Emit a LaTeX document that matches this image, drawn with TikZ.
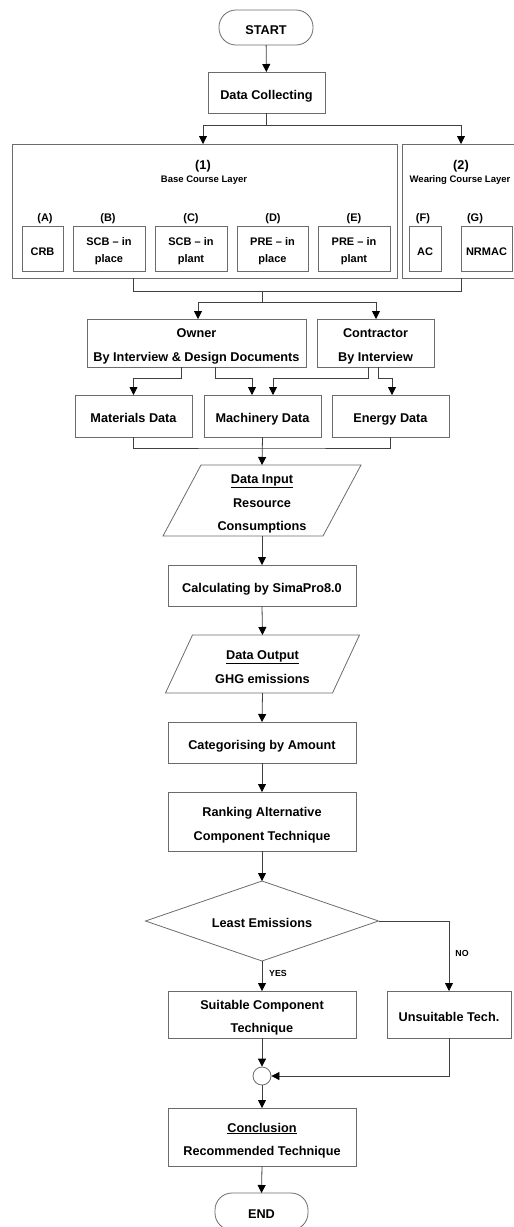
\documentclass[tikz,border=0pt]{standalone}
\usepackage{fontspec}
\setmainfont{Liberation Sans}
\usetikzlibrary{arrows.meta}
\definecolor{boxc}{gray}{0.42}
\definecolor{linec}{gray}{0.25}
\newcommand\topstrut{\rule{0pt}{16pt}}
\newcommand\botstrut{\rule[-2.8pt]{0pt}{2.8pt}}
\begin{document}
\begin{tikzpicture}[x=1pt,y=-1pt,
  base/.style={font=\fontsize{12.7}{23.5}\selectfont\bfseries, align=center, inner sep=0pt, outer sep=0pt,
    execute at begin node=\topstrut, execute at end node=\botstrut},
  tx/.style={font=\fontsize{12.7}{23.5}\selectfont\bfseries, align=center, inner sep=0pt, outer sep=0pt},
  techtx/.style={tx, font=\fontsize{11}{17}\selectfont\bfseries},
  box/.style={base, draw=boxc, line width=0.8pt, rectangle},
  ghost/.style={base, rectangle},
  tech/.style={box, font=\fontsize{11}{17}\selectfont\bfseries},
  techlab/.style={base, font=\fontsize{11}{17}\selectfont\bfseries},
  small/.style={font=\fontsize{9.5}{11}\selectfont\bfseries, inner sep=0pt},
  tiny/.style={font=\fontsize{8.8}{10}\selectfont\bfseries, inner sep=0pt},
  term/.style={box, rounded corners=17pt},
  line/.style={draw=linec, line width=0.8pt},
  arr/.style={line, -{Triangle[length=8pt,width=8pt,color=black]}},
  shapeline/.style={draw=boxc, line width=0.8pt}
]
\useasboundingbox (0,0) rectangle (514,1227);

% terminals and main boxes
\node[term, minimum width=94, minimum height=35] (start) at (266,27.5) {START};
\node[box, minimum width=117, minimum height=41] (dc) at (266.5,92.5) {Data Collecting};

% layer groups
\node[box, minimum width=385, minimum height=134] (box1) at (204.5,211) {};
\node[box, minimum width=114, minimum height=134] (box2) at (459,211) {};
\node[base] (l1) at (203,163) {(1)};
\node[small] (l1t) at (204,180) {Base Course Layer};
\node[base] (l2) at (461,163) {(2)};
\node[small] (l2t) at (460,180) {Wearing Course Layer};

% sub labels
\node[techlab] (la) at (45,215) {(A)};
\node[techlab] (lb) at (108,215) {(B)};
\node[techlab] (lc) at (191,215) {(C)};
\node[techlab] (ld) at (273,215) {(D)};
\node[techlab] (le) at (354,215) {(E)};
\node[techlab] (lf) at (423,215) {(F)};
\node[techlab] (lg) at (475,215) {(G)};

% technique boxes
\node[tech, minimum width=41, minimum height=45] (ta) at (42.5,248.5) {CRB};
\node[tech, minimum width=72, minimum height=45] (tb) at (109,248.5) {};
\node[techtx] (tbt) at ([yshift=-3pt]tb.center) {SCB -- in\\place};
\node[tech, minimum width=72, minimum height=45] (tc) at (191,248.5) {};
\node[techtx] (tct) at ([yshift=-3pt]tc.center) {SCB -- in\\plant};
\node[tech, minimum width=71, minimum height=45] (td) at (272.5,248.5) {};
\node[techtx] (tdt) at ([yshift=-3pt]td.center) {PRE -- in\\place};
\node[tech, minimum width=72, minimum height=45] (te) at (354,248.5) {};
\node[techtx] (tet) at ([yshift=-3pt]te.center) {PRE -- in\\plant};
\node[tech, minimum width=32, minimum height=45] (tf) at (425,248.5) {AC};
\node[tech, minimum width=51, minimum height=45] (tg) at (486.5,248.5) {NRMAC};

% sources
\node[box, minimum width=219, minimum height=48] (owner) at (196.5,343) {};
\node[tx] (ownert) at ([yshift=-3.5pt]owner.center) {Owner\\By Interview \& Design Documents};
\node[box, minimum width=117, minimum height=48] (contr) at (375.5,343) {};
\node[tx] (contrt) at ([yshift=-3.5pt]contr.center) {Contractor\\By Interview};

\node[box, minimum width=117, minimum height=42] (mat) at (133.5,416) {Materials Data};
\node[box, minimum width=117, minimum height=42] (mach) at (262.5,416) {Machinery Data};
\node[box, minimum width=117, minimum height=42] (en) at (390.5,416) {Energy Data};

% data input parallelogram
\node[ghost, minimum width=160, minimum height=71] (din) at (262,500.5) {};
\node[tx] (dint) at ([yshift=-3.5pt]din.center) {\underline{Data Input}\\Resource\\Consumptions};
\draw[shapeline] ([xshift=-19pt]din.south west) -- ([xshift=-19pt]din.south east) -- ([xshift=19pt]din.north east) -- ([xshift=19pt]din.north west) -- cycle;

\node[box, minimum width=188, minimum height=41] (calc) at (262,585.5) {Calculating by SimaPro8.0};

% data output parallelogram
\node[ghost, minimum width=167, minimum height=58] (dout) at (262.5,664) {};
\node[tx] (doutt) at ([yshift=-3pt]dout.center) {\underline{Data Output}\\GHG emissions};
\draw[shapeline] ([xshift=-13.5pt]dout.south west) -- ([xshift=-13.5pt]dout.south east) -- ([xshift=13.5pt]dout.north east) -- ([xshift=13.5pt]dout.north west) -- cycle;

\node[box, minimum width=188, minimum height=41] (cat) at (262,742.5) {Categorising by Amount};
\node[box, minimum width=188, minimum height=59] (rank) at (262,821.5) {};
\node[tx] (rankt) at ([yshift=-3.5pt]rank.center) {Ranking Alternative\\Component Technique};

% decision diamond
\node[ghost, minimum width=233, minimum height=80] (dia) at (262,921) {Least Emissions};
\draw[shapeline] (dia.north) -- (dia.east) -- (dia.south) -- (dia.west) -- cycle;

\node[box, minimum width=188, minimum height=47] (suit) at (262,1014.5) {};
\node[tx] (suitt) at ([yshift=-3pt]suit.center) {Suitable Component\\Technique};
\node[box, minimum width=124, minimum height=47] (unsuit) at (449,1014.5) {Unsuitable Tech.};
\node[draw=boxc, line width=0.8pt, circle, minimum size=18, inner sep=0pt] (circ) at (262,1076) {};
\node[box, minimum width=188, minimum height=58] (concl) at (262,1137) {};
\node[tx] (conclt) at ([yshift=-3.5pt]concl.center) {\underline{Conclusion}\\Recommended Technique};
\node[term, minimum width=93, minimum height=37] (fin) at (261.5,1211.5) {END};

\node[tiny] (yes) at (278,973) {YES};
\node[tiny] (no) at (462,953) {NO};

% junction coordinates
\coordinate (b1) at (203,125);
\coordinate (b2) at (461,125);
\coordinate (m1) at (133,291);
\coordinate (m2) at (461,291);
\coordinate (m0) at (262,291);
\coordinate (s1) at (198,302);
\coordinate (s2) at (376,302);
\coordinate (o1) at (181,378);
\coordinate (o2) at (215,378);
\coordinate (c1) at (368,378);
\coordinate (c2) at (378,378);
\coordinate (mx1) at (252,0);
\coordinate (mx2) at (273,0);
\coordinate (ex) at (392,0);
\coordinate (j2) at (262,448);
\coordinate (nc) at (449,921);

% connectors
\draw[arr] (start) -- (dc);
\draw[arr] (dc.south) |- (b1) -- (b1 |- box1.north);
\draw[arr] (dc.south) |- (b2) -- (b2 |- box2.north);
\draw[line] (box1.south -| m1) -- (m1) -- (m2) -- (box2.south -| m2);
\draw[arr] (m0) |- (s1) -- (s1 |- owner.north);
\draw[arr] (m0) |- (s2) -- (s2 |- contr.north);
\draw[arr] (owner.south -| o1) -- (o1) -| (mat.north);
\draw[arr] (owner.south -| o2) -- (o2) -| (mach.north -| mx1);
\draw[arr] (contr.south -| c1) -- (c1) -| (mach.north -| mx2);
\draw[arr] (contr.south -| c2) -- (c2) -| (en.north -| ex);
\draw[line] (mat.south) |- (j2) -| (en.south);
\draw[arr] (mach.south) -- (din.north);
\draw[arr] (din.south) -- (calc.north);
\draw[arr] (calc.south) -- (dout.north);
\draw[arr] (dout.south) -- (cat.north);
\draw[arr] (cat.south) -- (rank.north);
\draw[arr] (rank.south) -- (dia.north);
\draw[arr] (dia.south) -- (suit.north);
\draw[arr] (dia.east) -- (nc) -- (unsuit.north);
\draw[arr] (suit.south) -- (circ.north);
\draw[arr] (unsuit.south) |- (circ.east);
\draw[arr] (circ.south) -- (concl.north);
\draw[arr] (concl.south) -- (fin.north);
\end{tikzpicture}
\end{document}
